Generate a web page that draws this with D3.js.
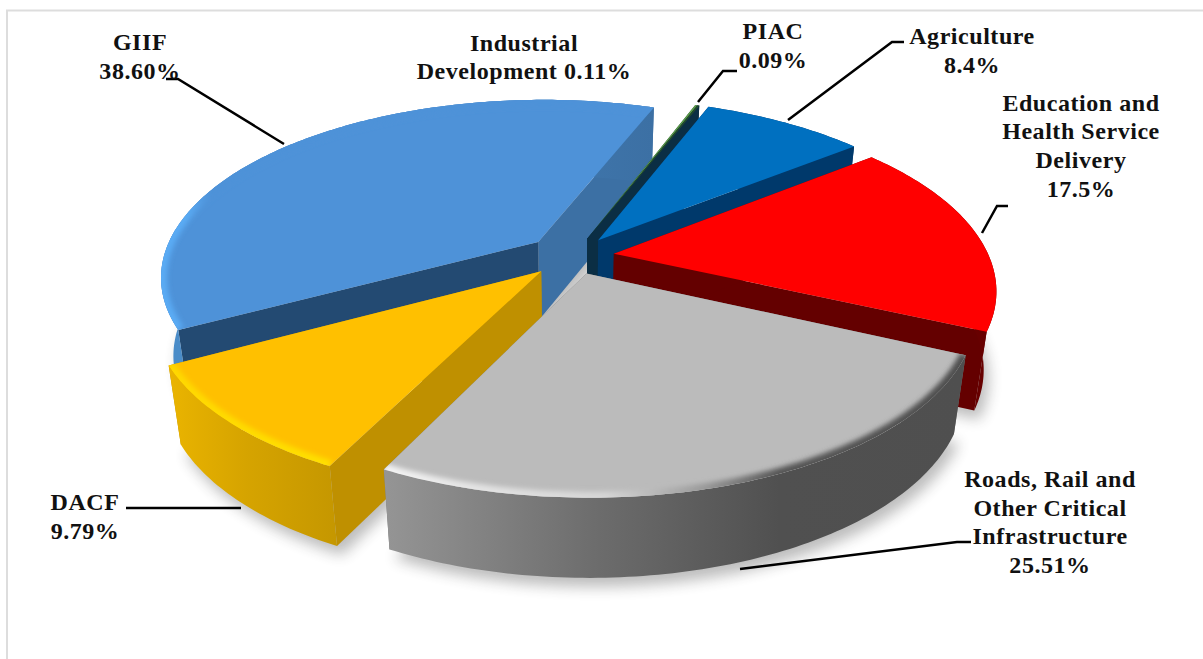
<!DOCTYPE html>
<html>
<head>
<meta charset="utf-8">
<script src="https://cdn.jsdelivr.net/npm/d3@7"></script>
<style>
  body { margin: 0; background: #fff; overflow: hidden; }
  text { font-family: "Liberation Serif", serif; font-weight: bold; font-size: 24px; fill: #111; letter-spacing: 0.55px; }
</style>
</head>
<body>
<div id="chart"></div>
<script>
// clockwise order, starting from the Agriculture slice
const categories = ["Agriculture", "Education", "Roads", "DACF", "GIIF", "Industrial", "PIAC"];
const values = [8.4, 17.5, 25.51, 9.79, 38.6, 0.11, 0.09];
const nameLines = [
  ["Agriculture"],
  ["Education and", "Health Service", "Delivery"],
  ["Roads, Rail and", "Other Critical", "Infrastructure"],
  ["DACF"],
  ["GIIF"],
  ["Industrial", "Development 0.11%"],
  ["PIAC"]
];
const pctLabels = ["8.4%", "17.5%", "25.51%", "9.79%", "38.60%", "", "0.09%"];

const width = 1203;
const height = 659;
const cx = 573, cy = 256;
const radius = 375;
const depthY = 174;      // how much the circle is squashed
const persp = 0.19;      // nearer part of the pie looks bigger
const explode = [0.115, 0.11, 0.105, 0.12, 0.125, 0.11, 0.11];
const startDeg = 21.3;

// where the labels sit
const labelX = [972, 1081, 1050, 85, 140, 524, 773];
const labelY = [44, 110.5, 487, 510, 50, 50.5, 39];
const lineGap = 28.7;
const leaders = [
  [[904, 42], [892, 42], [788, 120]],
  [[1008, 206], [997, 206], [982, 233]],
  [[971, 542], [957, 542], [740, 569]],
  [[126, 508], [241, 508]],
  [[166, 79], [178, 79], [284, 144]],
  [],
  [[737, 71], [723, 71], [698, 102]]
];

const topColor = d3.scaleOrdinal(categories, ["#0070C0", "#FF0000", "#BBBBBB", "#FFC000", "#4E92D8", "#5E9E45", "#264E2A"]);
const startWall = d3.scaleOrdinal(categories, ["#00396B", "#640000", "#777777", "#BF9000", "#234A72", "#0B2E44", "#0B2E44"]);
const endWall = d3.scaleOrdinal(categories, ["#00396B", "#640000", "#777777", "#BF9000", "#3C70A4", "#0B2E44", "#0B2E44"]);
// outer wall and rim shading, left to right across the screen
const wallStops = {
  Agriculture: [[0, "#00396B"], [1, "#00396B"]],
  Education: [[0, "#8a0000"], [0.5, "#700000"], [1, "#640000"]],
  Roads: [[0, "#959595"], [0.37, "#6c6c6c"], [0.68, "#505050"], [1, "#4f4f4f"]],
  DACF: [[0, "#EAB400"], [0.45, "#D6A400"], [1, "#C59700"]],
  GIIF: [[0, "#4A8CC8"], [0.05, "#4A8CC8"], [1, "#3C70A4"]],
  Industrial: [[0, "#0B2E44"], [1, "#0B2E44"]],
  PIAC: [[0, "#0B2E44"], [1, "#0B2E44"]]
};
const rimStops = {
  Roads: [[0, "#f4f4f4"], [0.15, "#e4e4e4"], [0.38, "#d6d6d6"], [0.55, "#9a9a9a"], [0.68, "#565656"], [1, "#4f4f4f"]],
  DACF: [[0, "#FFD800"], [1, "#FFE000"]],
  GIIF: [[0, "#5AABF4"], [0.05, "#5AABF4"], [0.1, "#4E92D8"], [1, "#4E92D8"]]
};
// painter's order, back to front
const drawOrder = ["GIIF", "Industrial", "PIAC", "Agriculture", "Education", "DACF", "Roads"];

const svg = d3.select("#chart").append("svg")
  .attr("width", width)
  .attr("height", height)
  .style("display", "block");

svg.append("rect")
  .attr("x", 7).attr("y", 10.5)
  .attr("width", 1400).attr("height", 900)
  .attr("fill", "#fff")
  .attr("stroke", "#dddddd")
  .attr("stroke-width", 2);

const defs = svg.append("defs");
defs.append("filter").attr("id", "shadow")
  .attr("x", "-20%").attr("y", "-20%").attr("width", "140%").attr("height", "140%")
  .append("feGaussianBlur").attr("stdDeviation", 7);
defs.append("filter").attr("id", "soft")
  .attr("x", "-10%").attr("y", "-10%").attr("width", "120%").attr("height", "120%")
  .append("feGaussianBlur").attr("stdDeviation", 2.5);

const pie = d3.pie()
  .sort(null)
  .startAngle(startDeg * Math.PI / 180)
  .endAngle((startDeg + 360) * Math.PI / 180);
const slices = pie(values).map((d, i) => ({ ...d, name: categories[i], explode: explode[i] }));

// world coords are in radius units, y grows toward the viewer
function projectTop(wx, wy) {
  const s = 1 / (1 - persp * wy);
  return [cx + radius * wx * s, cy + depthY * wy * s];
}
function projectBottom(wx, wy) {
  const p = projectTop(wx, wy);
  return [cx + (p[0] - cx) * 0.97, p[1] + 78 + 2 * wy];
}

const line = d3.line();

slices.forEach(d => {
  const mid = (d.startAngle + d.endAngle) / 2;
  d.ax = d.explode * Math.sin(mid);
  d.ay = -d.explode * Math.cos(mid);
  const steps = Math.max(2, Math.ceil((d.endAngle - d.startAngle) * 60));
  d.angles = d3.range(steps + 1).map(i => d.startAngle + (d.endAngle - d.startAngle) * i / steps);
  d.world = d.angles.map(a => [d.ax + Math.sin(a), d.ay - Math.cos(a)]);
  d.topArc = d.world.map(w => projectTop(w[0], w[1]));
  d.botArc = d.world.map(w => projectBottom(w[0], w[1]));
  d.topApex = projectTop(d.ax, d.ay);
  d.botApex = projectBottom(d.ax, d.ay);
});

function xGradient(id, stops, x0, x1) {
  const g = defs.append("linearGradient")
    .attr("id", id)
    .attr("gradientUnits", "userSpaceOnUse")
    .attr("x1", x0).attr("x2", x1).attr("y1", 0).attr("y2", 0);
  stops.forEach(s => g.append("stop").attr("offset", s[0]).attr("stop-color", s[1]));
}

// soft shadow first, under everything
const shadow = svg.append("g")
  .attr("filter", "url(#shadow)")
  .attr("transform", "translate(5,9)")
  .attr("opacity", 0.32);
slices.forEach(d => {
  shadow.append("path")
    .attr("d", line([d.botApex, ...d.botArc]) + "Z")
    .attr("fill", "#333");
});

drawOrder.forEach(name => {
  const d = slices.find(s => s.name === name);
  const g = svg.append("g").attr("class", "slice");
  const xs = d.topArc.map(p => p[0]).concat(d.botArc.map(p => p[0]));
  const x0 = d3.min(xs), x1 = d3.max(xs);
  const n = d.topArc.length - 1;

  // radial walls
  g.append("path")
    .attr("d", line([d.topApex, d.topArc[n], d.botArc[n], d.botApex]) + "Z")
    .attr("fill", endWall(name));
  g.append("path")
    .attr("d", line([d.topApex, d.topArc[0], d.botArc[0], d.botApex]) + "Z")
    .attr("fill", startWall(name));

  // outer wall
  xGradient("wall-" + name, wallStops[name], x0, x1);
  g.append("path")
    .attr("d", line([...d.topArc, ...d.botArc.slice().reverse()]) + "Z")
    .attr("fill", `url(#wall-${name})`);

  // top face
  const topPath = line([d.topApex, ...d.topArc]) + "Z";
  g.append("path")
    .attr("d", topPath)
    .attr("fill", topColor(name));

  // bevel along the rim
  if (rimStops[name]) {
    xGradient("rim-" + name, rimStops[name], x0, x1);
    defs.append("clipPath").attr("id", "clip-" + name)
      .append("path").attr("d", topPath);
    g.append("g")
      .attr("clip-path", `url(#clip-${name})`)
      .append("path")
      .attr("d", line(d.topArc))
      .attr("fill", "none")
      .attr("stroke", `url(#rim-${name})`)
      .attr("stroke-width", 12)
      .attr("filter", "url(#soft)");
  }
});

// labels and leader lines
slices.forEach((d, i) => {
  if (leaders[i].length) {
    svg.append("path")
      .attr("d", line(leaders[i]))
      .attr("fill", "none")
      .attr("stroke", "#000")
      .attr("stroke-width", 2.5);
  }
  const lines = pctLabels[i] ? [...nameLines[i], pctLabels[i]] : nameLines[i];
  svg.append("text")
    .attr("text-anchor", "middle")
    .selectAll("tspan")
    .data(lines)
    .enter()
    .append("tspan")
    .attr("x", labelX[i])
    .attr("y", (t, j) => labelY[i] + j * lineGap)
    .text(t => t);
});
</script>
</body>
</html>
